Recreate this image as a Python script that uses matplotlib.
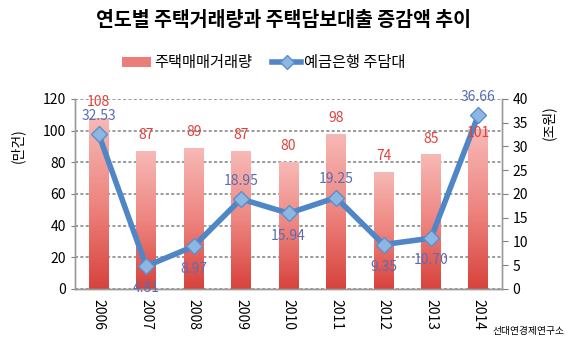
import numpy as np
import matplotlib
matplotlib.use('Agg')
import matplotlib.pyplot as plt
from matplotlib.colors import LinearSegmentedColormap
from matplotlib.lines import Line2D
from matplotlib.patches import Patch

plt.rcParams['font.family'] = ['Noto Sans CJK KR', 'DejaVu Sans']

# data
years = ['2006', '2007', '2008', '2009', '2010', '2011', '2012', '2013', '2014']
deals = [108, 87, 89, 87, 80, 98, 74, 85, 101]          # 주택매매거래량 (만건)
loans = [32.53, 4.81, 8.97, 18.95, 15.94, 19.25, 9.35, 10.70, 36.66]  # 예금은행 주담대 (조원)
loan_labels = ['32.53', '4.81', '8.97', '18.95', '15.94', '19.25', '9.35', '10.70', '36.66']
loan_above = [True, False, False, True, False, True, False, False, True]

bar_red = '#E0413B'
line_blue = '#4F86C6'
label_blue = '#5A6DB3'
grid_gray = '#808080'

fig = plt.figure(figsize=(5.7, 3.39), dpi=100)
ax = fig.add_axes([0.1316, 0.1475, 0.7494, 0.5605])
ax2 = ax.twinx()

x = np.arange(len(years))
bars = ax.bar(x, deals, width=0.42, color='none', edgecolor='none', zorder=2)

# vertical gradient inside each bar
cmap = LinearSegmentedColormap.from_list('barfill', ['#F7B9B6', '#EE8580', '#D8423C'])
grad = np.linspace(0, 1, 256).reshape(-1, 1)
for b in bars:
    x0, y0 = b.get_x(), b.get_y()
    im = ax.imshow(grad, cmap=cmap, aspect='auto', zorder=2,
                   extent=[x0, x0 + b.get_width(), y0, y0 + b.get_height()],
                   origin='upper')
    im.set_clip_path(b)

ax.set_xlim(-0.5, len(years) - 0.5)
ax.set_ylim(0, 120)
ax.set_yticks(range(0, 121, 20))
ax.yaxis.grid(True, linestyle=(0, (2, 1.5)), color=grid_gray, linewidth=1.1, zorder=0)
ax.set_axisbelow(True)

ax2.plot(x, loans, color=line_blue, linewidth=4.0, marker='D', markersize=8,
         markerfacecolor='#8DB6E3', markeredgecolor='#5B8FCB', markeredgewidth=1.0,
         zorder=4, solid_joinstyle='round')
ax2.set_ylim(0, 40)
ax2.set_yticks(range(0, 41, 5))

# bar value labels drawn on the top axes so they sit above the line
for i, v in enumerate(deals):
    ypos = v - 2.5 if i == len(deals) - 1 else v + 10
    ax2.text(i, ypos, str(v), transform=ax.transData, ha='center', va='center',
             color=bar_red, fontsize=10, zorder=6)

for i, (v, s, up) in enumerate(zip(loans, loan_labels, loan_above)):
    ax2.annotate(s, (i, v), xytext=(0, 13 if up else -16), textcoords='offset points',
                 ha='center', va='center', color=label_blue, fontsize=10,
                 zorder=6, annotation_clip=False)

ax.set_zorder(ax2.get_zorder() - 1)
ax.patch.set_visible(True)
ax2.patch.set_visible(False)

ax.set_xticks(x)
ax.set_xticklabels(years, rotation=-90, fontsize=10)
ax.tick_params(axis='x', length=0, pad=7)
ax.tick_params(axis='y', labelsize=10, length=3, color=grid_gray)
ax2.tick_params(axis='y', labelsize=10, length=4, color=grid_gray)

for a in (ax, ax2):
    a.spines['top'].set_visible(False)
    for side in ('left', 'right', 'bottom'):
        a.spines[side].set_color('#9A9A9A')
        a.spines[side].set_linewidth(1.0)

fig.text(0.03, 0.57, '(만건)', rotation=90, ha='center', va='center', fontsize=10)
fig.text(0.963, 0.637, '(조원)', rotation=90, ha='center', va='center', fontsize=10)

fig.text(0.497, 0.94, '연도별 주택거래량과 주택담보대출 증감액 추이',
         ha='center', va='center', fontsize=14, fontweight='bold')

handles = [Patch(facecolor='#EC7E79', edgecolor='none'),
           Line2D([0], [0], color=line_blue, linewidth=4, marker='D', markersize=7,
                  markerfacecolor='#8DB6E3', markeredgecolor='#5B8FCB')]
fig.legend(handles, ['주택매매거래량', '예금은행 주담대'], loc='center',
           bbox_to_anchor=(0.463, 0.815), ncol=2, frameon=False, fontsize=11,
           handlelength=1.9, handletextpad=0.2, columnspacing=1.3)

fig.text(0.99, 0.025, '선대연경제연구소', ha='right', va='center', fontsize=7)

fig.savefig('out.png', dpi=100)
